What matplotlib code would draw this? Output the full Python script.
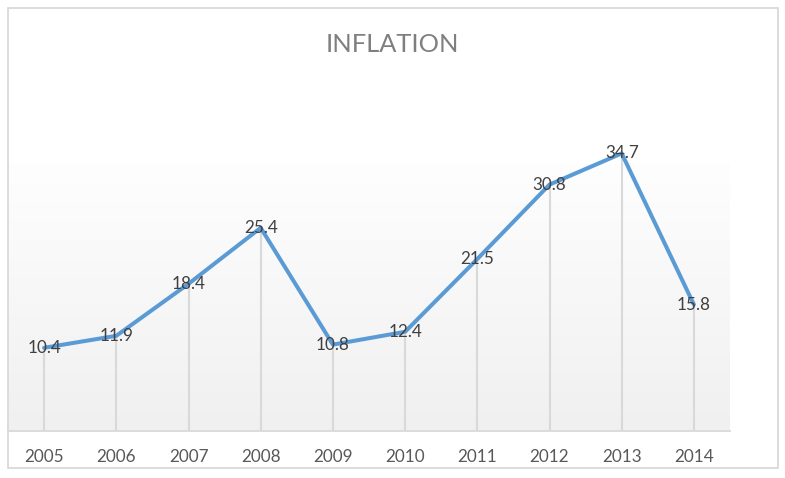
import matplotlib
matplotlib.use("Agg")
import matplotlib.pyplot as plt
from matplotlib.patches import Rectangle
import numpy as np

years = ["2005", "2006", "2007", "2008", "2009", "2010", "2011", "2012", "2013", "2014"]
inflation = [10.4, 11.9, 18.4, 25.4, 10.8, 12.4, 21.5, 30.8, 34.7, 15.8]

W, H = 785, 478
plt.rcParams["font.family"] = ["Lato", "DejaVu Sans"]

fig = plt.figure(figsize=(W / 100, H / 100), dpi=100)
fig.patch.set_facecolor("white")

# outer chart border
fig.patches.append(Rectangle((8 / W, 1 - 468 / H), 770 / W, 460 / H,
                             transform=fig.transFigure, fill=False,
                             edgecolor="#d9d9d9", linewidth=1.3))

ax = fig.add_axes([8 / W, 1 - 431 / H, 722 / W, 320 / H])
ax.set_xlim(-0.5, len(years) - 0.5)
ax.set_ylim(0, 40)
ax.set_facecolor("none")

# gradient fill of plot area (white top -> light gray bottom)
grad = np.linspace(1.0, 0.0, 256).reshape(-1, 1)
top_frac = (431 - 163) / 320
ax.imshow(grad, extent=(0, 1, 0, top_frac), transform=ax.transAxes,
          cmap=matplotlib.colors.LinearSegmentedColormap.from_list(
              "bg", ["#f0f0f0", "#fefefe"]),
          aspect="auto", zorder=0)

x = np.arange(len(years))
# drop lines
ax.vlines(x, 0, inflation, colors="#d9d9d9", linewidth=1.5, zorder=1)
ax.plot(x, inflation, color="#5b9bd5", linewidth=2.9, zorder=3,
        solid_joinstyle="round", solid_capstyle="round", clip_on=False)

for xi, v in zip(x, inflation):
    ax.text(xi, v, f"{v}", ha="center", va="center", fontsize=12.3,
            color="#404040", zorder=4)

for s in ["top", "left", "right"]:
    ax.spines[s].set_visible(False)
ax.spines["bottom"].set_color("#d9d9d9")
ax.spines["bottom"].set_linewidth(1.3)
ax.set_yticks([])
ax.set_xticks(x)
ax.set_xticklabels(years, fontsize=12.3, color="#595959")
ax.tick_params(axis="x", length=0, pad=13)

fig.text(392 / W, 1 - 44 / H, "INFLATION", ha="center", va="center",
         fontsize=18.3, color="#7f7f7f")

fig.savefig("out.png", dpi=100)
